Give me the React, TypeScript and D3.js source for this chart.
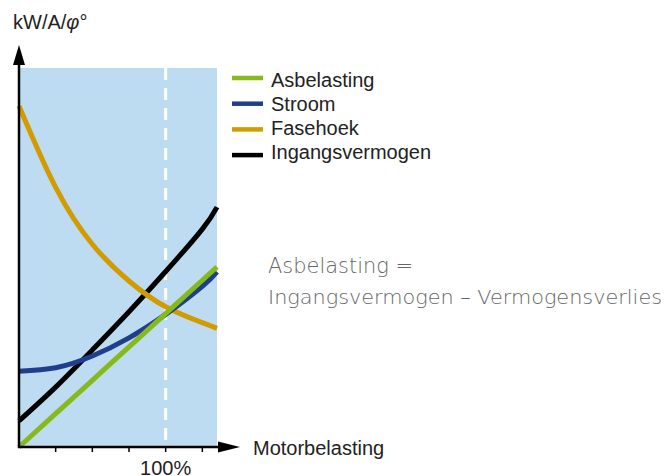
import React from "react";
import * as d3 from "d3";

// ---- data (x = motor load in %, y = relative units 0..100) ----
const loadPct = [0, 25, 50, 75, 100, 125, 135];
const asbelasting = [0, 8.8, 17.6, 26.4, 35.2, 44.0, 47.5];
const stroom = [20.0, 20.9, 24.0, 28.8, 35.0, 42.4, 46.2];
const fasehoek = [90.0, 68.5, 53.5, 43.8, 37.0, 32.8, 31.3];
const ingangsvermogen = [6.9, 15.8, 25.6, 35.7, 46.3, 57.5, 63.3];

const xTicks = [25, 50, 75, 100, 125];
const xTickLabels = ["", "", "", "100%", ""];

const seriesNames = ["Asbelasting", "Stroom", "Fasehoek", "Ingangsvermogen"];
const seriesColors = ["#86b91a", "#1f3e8e", "#d29b00", "#000000"];
const seriesValues = [asbelasting, stroom, fasehoek, ingangsvermogen];

const W = 667;
const H = 476;

export default function App() {
  const x = d3.scaleLinear().domain([0, 135]).range([19, 217]);
  const y = d3.scaleLinear().domain([0, 100]).range([447, 68]);

  const line = (vals: number[]) =>
    d3
      .line<number>()
      .x((_, i) => x(loadPct[i]))
      .y((v) => y(v))
      .curve(d3.curveNatural)(vals) || "";

  const font = "'Liberation Sans', Arial, Helvetica, sans-serif";
  const drawOrder = [3, 2, 1, 0];

  return (
    <svg
      width={W}
      height={H}
      viewBox={`0 0 ${W} ${H}`}
      style={{ position: "fixed", left: 0, top: 0, background: "#fff" }}
    >
      {/* shaded area */}
      <rect
        x={x(0)}
        y={y(100)}
        width={x(135) - x(0)}
        height={y(0) - y(100)}
        fill="#bedcf1"
      />
      {/* 100% dashed line */}
      <line
        x1={x(100)}
        x2={x(100)}
        y1={y(100)}
        y2={y(0)}
        stroke="#ffffff"
        strokeWidth={3}
        strokeDasharray="12 8"
      />
      {/* curves */}
      {drawOrder.map((i) => (
        <path
          key={seriesNames[i]}
          d={line(seriesValues[i])}
          fill="none"
          stroke={seriesColors[i]}
          strokeWidth={5}
        />
      ))}
      {/* axes */}
      <line x1={19} x2={19} y1={y(0) + 1} y2={62} stroke="#000" strokeWidth={2.5} />
      <path d="M19,45 L13,65 L25,65 Z" fill="#000" />
      <line x1={18} x2={222} y1={y(0)} y2={y(0)} stroke="#000" strokeWidth={2.5} />
      <path d="M240,447 L218,441.5 L218,452.5 Z" fill="#000" />
      {xTicks.map((t, i) => (
        <g key={t}>
          <line
            x1={x(t)}
            x2={x(t)}
            y1={y(0)}
            y2={y(0) + 5}
            stroke="#000"
            strokeWidth={1.5}
          />
          {xTickLabels[i] && (
            <text
              x={x(t)}
              y={475}
              textAnchor="middle"
              fontFamily={font}
              fontSize={20}
              fill="#222"
            >
              {xTickLabels[i]}
            </text>
          )}
        </g>
      ))}
      {/* axis titles */}
      <text x={13} y={29} fontFamily={font} fontSize={20} fill="#222">
        kW/A/<tspan fontStyle="italic">φ</tspan>°
      </text>
      <text x={253} y={455} fontFamily={font} fontSize={20} fill="#222">
        Motorbelasting
      </text>
      {/* legend */}
      {seriesNames.map((n, i) => (
        <g key={n}>
          <line
            x1={232}
            x2={263}
            y1={78 + i * 25.7}
            y2={78 + i * 25.7}
            stroke={seriesColors[i]}
            strokeWidth={4.5}
          />
          <text
            x={271}
            y={86.5 + i * 24.3}
            fontFamily={font}
            fontSize={20}
            fill="#222"
          >
            {n}
          </text>
        </g>
      ))}
      {/* annotation */}
      <text
        x={268}
        y={273}
        fontFamily="'DejaVu Sans', sans-serif"
        fontWeight={200}
        fontSize={21}
        fill="#666"
        textLength={145}
        lengthAdjust="spacingAndGlyphs"
      >
        Asbelasting =
      </text>
      <text
        x={268}
        y={304}
        fontFamily="'DejaVu Sans', sans-serif"
        fontWeight={200}
        fontSize={20}
        fill="#666"
        textLength={394}
        lengthAdjust="spacingAndGlyphs"
      >
        Ingangsvermogen – Vermogensverlies
      </text>
    </svg>
  );
}
